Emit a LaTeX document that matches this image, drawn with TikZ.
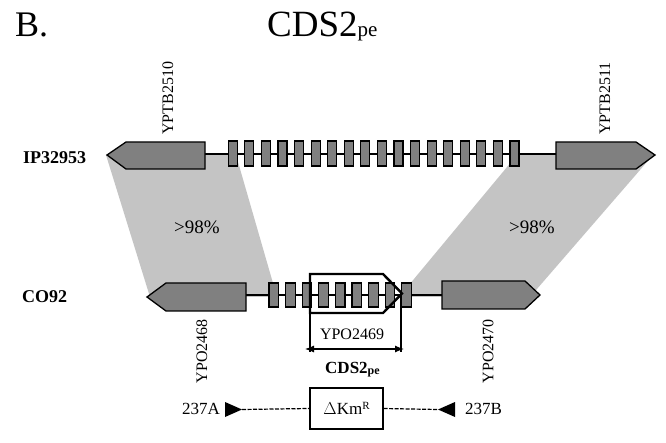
\documentclass[tikz,border=0pt]{standalone}
\usepackage{fontspec}
\setmainfont{Liberation Serif}
\usetikzlibrary{arrows.meta}
\definecolor{genegray}{RGB}{128,128,128}
\definecolor{shadegray}{RGB}{196,196,196}
\begin{document}
\begin{tikzpicture}[x=1pt,y=-1pt,
  gene/.style={draw=black, line width=1.3pt, fill=genegray, line join=miter},
  repbox/.style={draw=black, line width=1.2pt, fill=genegray},
  shadearea/.style={fill=shadegray, draw=none},
  spine/.style={draw=black, line width=1.1pt},
  lbl/.style={font=\fontsize{16}{16}\selectfont, inner sep=0pt},
  strain/.style={font=\fontsize{18}{18}\selectfont\bfseries, inner sep=0pt, anchor=base west},
  pct/.style={font=\fontsize{19}{19}\selectfont, inner sep=0pt},
  cons/.style={font=\fontsize{17}{17}\selectfont, inner sep=0pt},
  dimline/.style={draw=black, line width=1.1pt},
  dashline/.style={draw=black, line width=1.2pt, dash pattern=on 4pt off 1.5pt},
  orfbox/.style={draw=black, line width=2.4pt, line join=miter}
]
\useasboundingbox (0,0) rectangle (666,443);

% headings
\node[anchor=base west, inner sep=0pt, font=\fontsize{36}{36}\selectfont] (panel) at (15,37) {B.};
\node[anchor=base west, inner sep=0pt] (title) at (267,37) {{\fontsize{37}{37}\selectfont CDS2}{\fontsize{21}{21}\selectfont pe}};

% homology shading
\path[shadearea] (106,155) -- (236,155) -- (277,297) -- (150,297) -- cycle;
\path[shadearea] (517,155) -- (653,155) -- (530,297) -- (399,297) -- cycle;
\node[pct] (p1) at (197,227) {>98\%};
\node[pct] (p2) at (532,227) {>98\%};

% strain labels
\node[strain] (ip) at (23,164) {IP32953};
\node[strain] (co) at (22,303) {CO92};

% top row
\coordinate (tL) at (205,154);
\coordinate (tR) at (556,154);
\draw[spine] (tL) -- (tR);
\draw[gene] (107,155) -- (126,142) -- (205,142) -- (205,169) -- (126,169) -- cycle;
\draw[gene] (556,142) -- (636,142) -- (655,155) -- (636,169) -- (556,169) -- cycle;
\foreach \i in {0,...,17} {
  \pgfmathsetmacro\xa{228.3+16.57*\i}
  \draw[repbox] (\xa,141) rectangle ++(9,25);
}
\node[lbl, rotate=90, anchor=west] (g2510) at (168,135) {YPTB2510};
\node[lbl, rotate=90, anchor=west] (g2511) at (605,135) {YPTB2511};

% bottom row
\coordinate (bL) at (246,295);
\coordinate (bR) at (442,295);
\draw[spine] (bL) -- (bR);
\draw[gene] (147,297) -- (166,283) -- (246,283) -- (246,311) -- (166,311) -- cycle;
\draw[gene] (442,281) -- (525,281) -- (540,295) -- (525,309) -- (442,309) -- cycle;
\foreach \i in {0,...,8} {
  \pgfmathsetmacro\xa{269+16.6*\i}
  \draw[repbox] (\xa,283) rectangle ++(9.5,24);
}
\draw[orfbox] (310,274) -- (383,274) -- (402,293.5) -- (383,313) -- (310,313) -- cycle;
\node[lbl, rotate=90] (g2468) at (202,351) {YPO2468};
\node[lbl, rotate=90] (g2470) at (488,351) {YPO2470};

% dimension of YPO2469 / CDS2pe
\coordinate (v1a) at (310,313);
\coordinate (v1b) at (310,352);
\coordinate (v2a) at (401,294);
\coordinate (v2b) at (401,352);
\draw[dimline] (v1a) -- (v1b);
\draw[dimline] (v2a) -- (v2b);
\coordinate (dimL) at (305,349);
\coordinate (dimR) at (404,349);
\draw[dimline, {Latex[length=9pt,width=7pt]}-{Latex[length=9pt,width=7pt]}] (dimL) -- (dimR);
\node[lbl] (y2469) at (352,334) {YPO2469};
\node[anchor=base west, inner sep=0pt] (cds) at (325,373) {{\fontsize{17}{17}\selectfont\bfseries CDS2}\raisebox{-1.5pt}{\fontsize{12}{12}\selectfont\bfseries pe}};

% deletion construct
\node[cons, anchor=east] (a237) at (220,409) {237A};
\node[cons, anchor=west] (b237) at (465,409) {237B};
\path[fill=black] (225,402) -- (242,409.5) -- (225,417) -- cycle;
\path[fill=black] (455,402) -- (438,409.5) -- (455,417) -- cycle;
\coordinate (triA) at (242,409.5);
\coordinate (triB) at (438,409.5);
\node[draw=black, line width=1.3pt, minimum width=73pt, minimum height=41pt, inner sep=0pt] (km) at (346.5,408.5)
  {\fontsize{17}{17}\selectfont $\Delta$Km\raisebox{5pt}{\fontsize{11}{11}\selectfont R}};
\draw[dashline] (triA) -- (km.west);
\draw[dashline] (km.east) -- (triB);
\end{tikzpicture}
\end{document}
